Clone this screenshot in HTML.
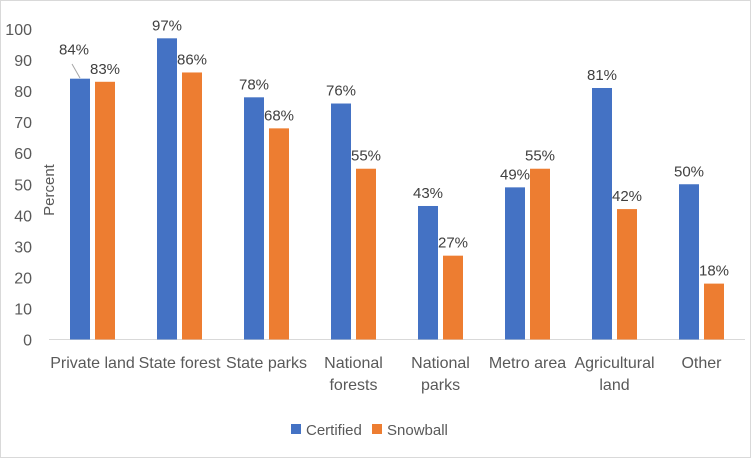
<!DOCTYPE html>
<html><head><meta charset="utf-8"><style>
html,body{margin:0;padding:0;background:#fff}
svg{display:block;font-family:"Liberation Sans",sans-serif}
</style></head><body>
<svg id="chart" width="751" height="458">
<rect x="0.5" y="0.5" width="750" height="457" fill="#fff" stroke="#d9d9d9"/>
<g id="grid"></g><g id="bars"></g><g id="labels"></g>
<text x="0" y="0" transform="translate(54,190) rotate(-90)" text-anchor="middle" font-size="15" fill="#595959">Percent</text>
<line x1="80" y1="78" x2="72" y2="64" stroke="#a6a6a6" stroke-width="1"/>
<g>
<rect x="291" y="424" width="10" height="10" fill="#4472c4"/>
<text x="306" y="435" font-size="15" fill="#595959">Certified</text>
<rect x="372" y="424" width="10" height="10" fill="#ed7d31"/>
<text x="387" y="435" font-size="15" fill="#595959">Snowball</text>
</g>
</svg>
<script>
const categories=[["Private land"],["State forest"],["State parks"],["National","forests"],["National","parks"],["Metro area"],["Agricultural","land"],["Other"]];
const certified=[84,97,78,76,43,49,81,50];
const snowball=[83,86,68,55,27,55,42,18];
const yTicks=[0,10,20,30,40,50,60,70,80,90,100];
const NS="http://www.w3.org/2000/svg";
const x0=49,x1=745,y0=339.5,y1=29;
const band=(x1-x0)/categories.length;
const yS=v=>y0-(v/100)*(y0-y1);
const xC=i=>x0+band*(i+0.5);
const bw=20,gap=5;
function mk(t,a,p){const e=document.createElementNS(NS,t);for(const k in a)e.setAttribute(k,a[k]);p.appendChild(e);return e;}
const grid=document.getElementById('grid'),bars=document.getElementById('bars'),labels=document.getElementById('labels');
const base=mk('line',{x1:x0,x2:x1,y1:y0,y2:y0,stroke:'#d9d9d9'},grid);


yTicks.forEach(v=>{
 const t=mk('text',{x:32,y:yS(v)+6,'text-anchor':'end','font-size':16,fill:'#595959'},grid);
 
 
 t.textContent=v;
});
categories.forEach((c,i)=>{
 const cx=xC(i);
 [[certified,'#4472c4',-1,'certified'],[snowball,'#ed7d31',1,'snowball']].forEach(([arr,col,s,nm])=>{
  const v=arr[i];
  const bx=s<0?cx-gap/2-bw:cx+gap/2;
  const r=mk('rect',{x:bx,y:yS(v),width:bw,height:y0-yS(v),fill:col},bars);
  
  
  let tx=bx+bw/2;
  if(i===0&&s<0)tx-=6;
  const t=mk('text',{x:tx,y:yS(v)-(i===0&&s<0?24:8),'text-anchor':'middle','font-size':15,fill:'#404040'},labels);
  
  
  t.textContent=v+'%';
 });
 c.forEach((line,j)=>{
  const t=mk('text',{x:cx,y:368+j*22,'text-anchor':'middle','font-size':16,fill:'#595959'},labels);
  
  
  t.textContent=line;
 });
});
</script>
</body></html>
